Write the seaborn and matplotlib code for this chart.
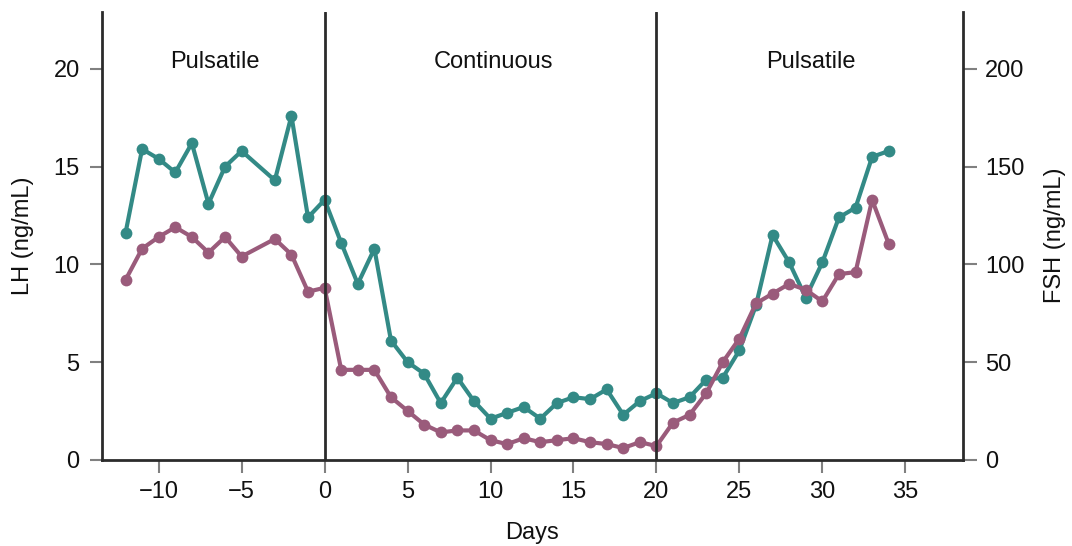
import matplotlib
matplotlib.use("Agg")
import matplotlib.pyplot as plt
import seaborn as sns
import pandas as pd

# ---- data ----
days = [-12, -11, -10, -9, -8, -7, -6, -5, -3, -2, -1, 0,
        1, 2, 3, 4, 5, 6, 7, 8, 9, 10, 11, 12, 13, 14, 15, 16, 17,
        18, 19, 20, 21, 22, 23, 24, 25, 26, 27, 28, 29, 30, 31, 32, 33, 34]

lh_values = [9.2, 10.8, 11.4, 11.9, 11.4, 10.6, 11.4, 10.4, 11.3, 10.5, 8.6, 8.8,
             4.6, 4.6, 4.6, 3.2, 2.5, 1.8, 1.4, 1.5, 1.5, 1.0, 0.8, 1.1, 0.9, 1.0, 1.1, 0.9, 0.8,
             0.6, 0.9, 0.7, 1.9, 2.3, 3.4, 5.0, 6.2, 8.0, 8.5, 9.0, 8.7, 8.1, 9.5, 9.6, 13.3, 11.05]

fsh_values = [116, 159, 154, 147, 162, 131, 150, 158, 143, 176, 124, 133,
              111, 90, 108, 61, 50, 44, 29, 42, 30, 21, 24, 27, 21, 29, 32, 31, 36,
              23, 30, 34, 29, 32, 41, 42, 56, 79, 115, 101, 83, 101, 124, 129, 155, 158]

phase_labels = ["Pulsatile", "Continuous", "Pulsatile"]
phase_label_x = [-6.6, 10.2, 29.3]
phase_boundaries = [0, 20]

x_ticks = [-10, -5, 0, 5, 10, 15, 20, 25, 30, 35]
lh_ticks = [0, 5, 10, 15, 20]
fsh_ticks = [0, 50, 100, 150, 200]

lh_color = "#9a5b7b"
fsh_color = "#338a86"
dark = "#2b2b2b"
tick_gray = "#808080"
text_color = "#111111"

df = pd.DataFrame({"Days": days, "LH": lh_values, "FSH": fsh_values})

sns.set_theme(style="white")
plt.rcParams["font.family"] = ["Liberation Sans", "DejaVu Sans"]
FS = 17

fig = plt.figure(figsize=(10.72, 5.46), dpi=100)
ax = fig.add_axes([0.0951, 0.158, 0.8028, 0.8206])
ax2 = ax.twinx()

sns.lineplot(data=df, x="Days", y="FSH", ax=ax2, color=fsh_color, marker="o",
             markersize=8.5, linewidth=3, markeredgewidth=0)
sns.lineplot(data=df, x="Days", y="LH", ax=ax, color=lh_color, marker="o",
             markersize=8.5, linewidth=3, markeredgewidth=0)

ax.set_zorder(ax2.get_zorder() + 1)
ax.patch.set_visible(False)

ax.set_xlim(-13.42, 38.45)
ax.set_ylim(0, 22.93)
ax2.set_ylim(0, 229.3)

for b in phase_boundaries:
    ax.axvline(b, color=dark, lw=2, zorder=5)

for lab, xp in zip(phase_labels, phase_label_x):
    ax.text(xp, 20.05, lab, ha="center", va="baseline", fontsize=FS, color=text_color)

ax.set_xticks(x_ticks)
ax.set_yticks(lh_ticks)
ax2.set_yticks(fsh_ticks)

ax.set_xlabel("Days", fontsize=FS, labelpad=14, color=text_color)
ax.set_ylabel("LH (ng/mL)", fontsize=FS, labelpad=14, color=text_color)
ax2.set_ylabel("FSH (ng/mL)", fontsize=FS, labelpad=14, color=text_color)

ax.tick_params(axis="x", direction="out", length=9, width=1.5, color=tick_gray,
               labelsize=FS, pad=6, labelcolor=text_color, bottom=True)
ax.tick_params(axis="y", direction="out", length=9, width=1.5, color=tick_gray,
               labelsize=FS, pad=7, labelcolor=text_color, left=True)
ax2.tick_params(axis="y", direction="out", length=10, width=1.5, color=tick_gray,
                labelsize=FS, pad=6, labelcolor=text_color, right=True)

for a in (ax, ax2):
    a.spines["top"].set_visible(False)
    for s in a.spines.values():
        s.set_color(dark)
        s.set_linewidth(2)
    a.grid(False)
ax.spines["right"].set_visible(False)
ax2.spines["left"].set_visible(False)
ax2.spines["bottom"].set_visible(False)

fig.savefig("out.png", dpi=100)
